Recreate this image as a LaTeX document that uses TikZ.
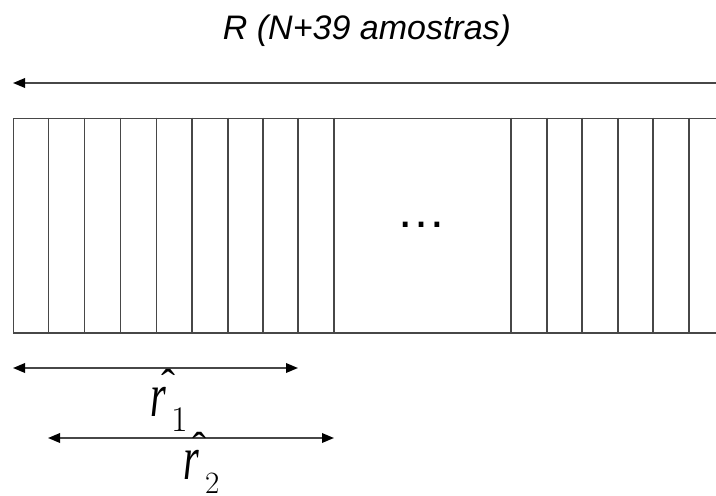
\RequirePackage{fix-cm}
\documentclass[tikz,border=0pt]{standalone}
\usepackage{fontspec}
\newfontfamily\arialfont{Liberation Sans}
\newfontfamily\timesfont{Liberation Serif}
\usetikzlibrary{arrows.meta}
% hatted r: #1 = horizontal offset of the hat centre
\newcommand{\hatrlabel}[1]{\makebox[0pt][l]{\kern\dimexpr#1-7pt\relax\raisebox{18pt}{\timesfont\fontsize{42}{42}\selectfont ˆ}}\scalebox{0.65}[1]{\timesfont\itshape\fontsize{62}{62}\selectfont r}}
\newcommand{\subdig}[2]{{\fontsize{#1}{#1}\selectfont #2}}
\begin{document}
\begin{tikzpicture}[x=1pt,y=-1pt,
  ln/.style={line width=1.8pt, draw=black!72},
  dimarrow/.style={ln, {Triangle[length=12pt,width=9.5pt,color=black]}-{Triangle[length=12pt,width=9.5pt,color=black]}},
  lbl/.style={inner sep=0pt},
  title/.style={inner sep=0pt, font=\arialfont\itshape\fontsize{34}{40}\selectfont}]
\path[use as bounding box] (0,0) rectangle (716,496);
\clip (0,0) rectangle (716,496);
% title
\node[title, anchor=base] (title) at (367,39) {R (N+39 amostras)};
% top dimension arrow
\coordinate (tl) at (13,83);
\coordinate (tr) at (728,83);
\draw[dimarrow] (tl) -- (tr);
% strip of samples
\node[ln, draw, inner sep=0pt, minimum width=712.5pt, minimum height=214.5pt, anchor=north west] (strip) at (12.5,117.5) {};
\foreach \x in {48.5,84.5,120.5,156.5,192,228,263,298,334,511,547,582,618,653,689}
  \draw[ln] (\x,117.5) -- (\x,332);
\node[inner sep=0pt, font=\arialfont\fontsize{50}{50}\selectfont] (dots) at (421,225) {…};
% r1 arrow
\coordinate (a1) at (13,368);
\coordinate (b1) at (298,368);
\draw[dimarrow] (a1) -- (b1);
\node[lbl, anchor=base west] (r1) at (150,416) {\hatrlabel{18.5pt}\kern5.3pt\raisebox{-15pt}{\subdig{36}{1}}};
% r2 arrow
\coordinate (a2) at (48,438);
\coordinate (b2) at (334,438);
\draw[dimarrow] (a2) -- (b2);
\node[lbl, anchor=base west] (r2) at (183,479) {\hatrlabel{16pt}\kern6.3pt\raisebox{-14pt}{\subdig{31}{2}}};
\end{tikzpicture}
\end{document}
